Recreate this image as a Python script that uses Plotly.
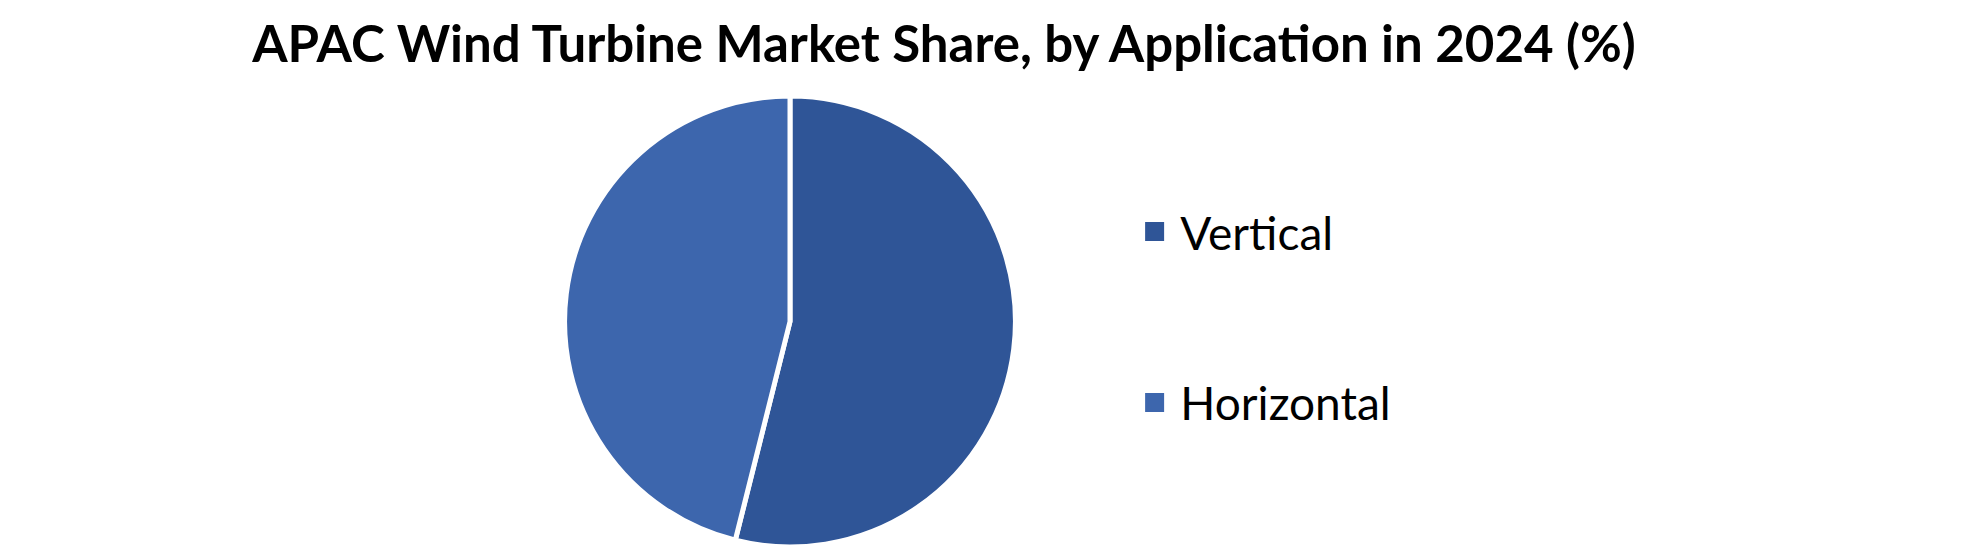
import plotly.graph_objects as go

# APAC wind turbine market share by application, 2024 (%)
applications = ["Vertical", "Horizontal"]
share = [53.9, 46.1]
colors = ["#2F5597", "#3D66AD"]

fig = go.Figure()

fig.add_trace(go.Pie(
    labels=applications,
    values=share,
    sort=False,
    direction="clockwise",
    rotation=0,
    marker=dict(colors=colors, line=dict(color="white", width=5)),
    textinfo="none",
    hoverinfo="label+percent",
    showlegend=False,
    domain=dict(x=[0.2811, 0.5088], y=[0, 1]),
))

# legend entries with bigger square swatches than the pie legend gives
for i, name in enumerate(applications):
    fig.add_trace(go.Scatter(
        x=[None], y=[None],
        mode="markers",
        marker=dict(symbol="square", size=20, color=colors[i],
                    line=dict(color=colors[i], width=3)),
        name="\u2009" + name,
        legendgroup=name,
        hoverinfo="skip",
    ))

fig.update_layout(
    width=1980,
    height=553,
    margin=dict(l=0, r=0, t=88, b=14),
    paper_bgcolor="white",
    plot_bgcolor="white",
    title=dict(
        text="APAC Wind Turbine Market Share, by Application in 2024 (%)",
        x=0.4727,
        xanchor="center",
        y=0.935,
        yanchor="middle",
        font=dict(family="Lato", size=51, color="black", weight="bold"),
    ),
    xaxis=dict(visible=False),
    yaxis=dict(visible=False),
    legend=dict(
        x=0.569,
        xanchor="left",
        y=0.78,
        yanchor="top",
        font=dict(family="Lato", size=46, color="black"),
        tracegroupgap=108,
        bgcolor="rgba(0,0,0,0)",
    ),
)

fig.write_html("out.html")
